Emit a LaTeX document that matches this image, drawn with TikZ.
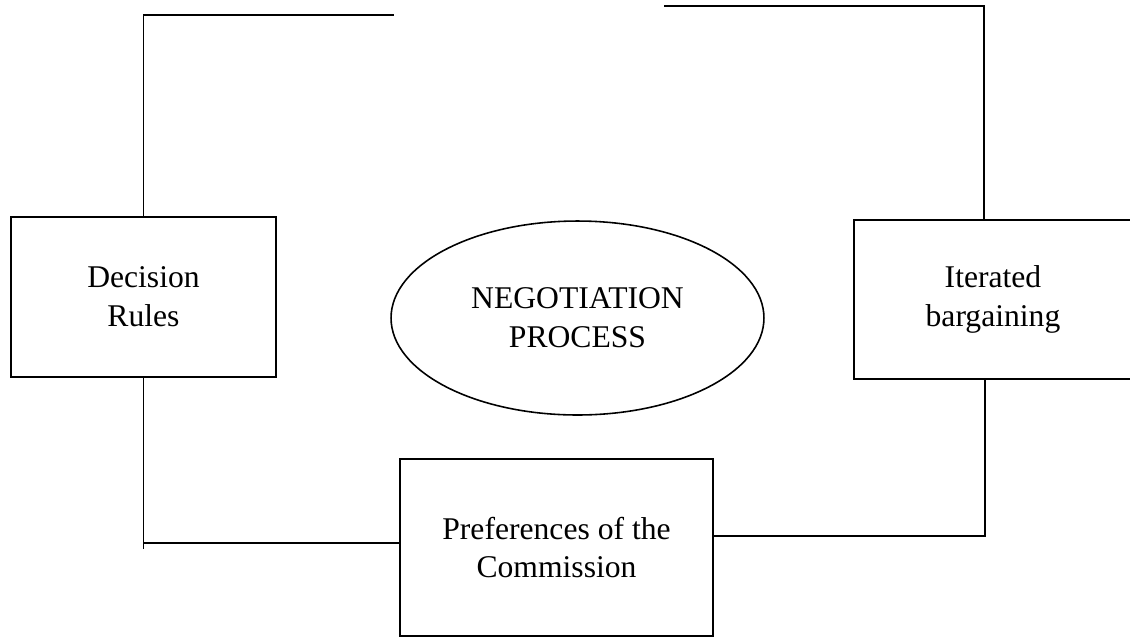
\documentclass[tikz,border=0pt]{standalone}
\usepackage{fontspec}
\setmainfont{Liberation Serif}
\usetikzlibrary{shapes.geometric}

\begin{document}
\begin{tikzpicture}[x=0.02cm, y=-0.02cm,
  factor/.style={draw, line width=1.1pt, align=center, inner sep=0pt,
    font=\fontsize{18}{22}\selectfont},
  link/.style={line width=0.6pt}]
\useasboundingbox (0, 0) rectangle (1130, 637);

\node[factor, minimum width=5.3cm, minimum height=3.2cm] (rules)
  at (143.5, 297) {Decision\\Rules};
\node[factor, ellipse, line width=0.9pt, minimum width=7.46cm,
  minimum height=3.88cm] (process) at (577.5, 318) {NEGOTIATION\\PROCESS};
\node[factor, minimum width=5.56cm, minimum height=3.18cm] (bargain)
  at (993, 299.5) {Iterated\\bargaining};
\node[factor, minimum width=6.26cm, minimum height=3.54cm] (prefs)
  at (556.5, 547.5) {Preferences of the\\Commission};

\coordinate (tl) at (394, 15);
\coordinate (tr) at (664, 6);
\coordinate (trc) at (984, 6);
\coordinate (blc) at (143.5, 543);
\coordinate (brc) at (985, 536);

\draw[link] (rules.north) |- (tl);
\draw[link] (tr) -- (trc) -- (trc |- bargain.north);
\draw[link] (rules.south) -- ++(0, 171);
\draw[link] (blc) -- (blc -| prefs.west);
\draw[link] (prefs.east |- brc) -- (brc) -- (brc |- bargain.south);

\end{tikzpicture}
\end{document}
